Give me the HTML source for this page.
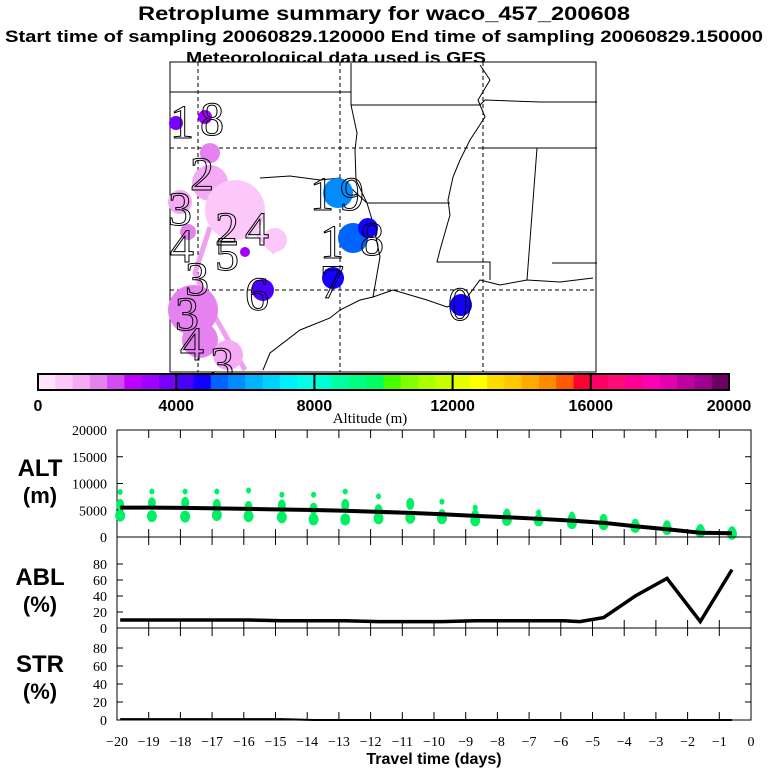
<!DOCTYPE html>
<html><head><meta charset="utf-8"><style>
html,body{margin:0;padding:0;background:#fff}
svg{display:block}
.t{font-family:"Liberation Sans",sans-serif;font-weight:bold;fill:#000}
.s{font-family:"Liberation Serif",serif;fill:#000}
.g{font-family:"Liberation Serif",serif;fill:none;stroke:#000;stroke-width:1}
</style></head><body>
<svg id="c" width="768" height="768" viewBox="0 0 768 768" xmlns="http://www.w3.org/2000/svg">
<text class="t" x="138" y="20" font-size="19" textLength="492" lengthAdjust="spacingAndGlyphs">Retroplume summary for waco_457_200608</text>
<text class="t" x="5" y="42" font-size="17" textLength="758" lengthAdjust="spacingAndGlyphs">Start time of sampling 20060829.120000    End time of sampling 20060829.150000</text>
<text class="t" x="186" y="63" font-size="16" textLength="300" lengthAdjust="spacingAndGlyphs">Meteorological data used is GFS</text>
<g id="map">
<rect x="170" y="62" width="426" height="310" fill="#fff" stroke="#000"/>
<g stroke="#000" stroke-dasharray="4,3" fill="none">
<line x1="198" y1="62" x2="198" y2="372"/><line x1="340" y1="62" x2="340" y2="372"/><line x1="483" y1="62" x2="483" y2="372"/>
<line x1="170" y1="148" x2="596" y2="148"/><line x1="170" y1="290" x2="596" y2="290"/>
</g>
<g stroke="#000" fill="none" stroke-width="1">
<polyline points="170,92 351,92 351,63"/>
<polyline points="351,92 351,105 357,133 355,150 356,180 367,203 373,223 380,257 373,297"/>
<polyline points="351,105 480,105 485,100 540,102 597,102"/>
<polyline points="367,203 450,203"/>
<polyline points="480,65 490,80 478,100 485,117 470,140 460,160 453,177 448,200 450,215 440,250 437,262 490,262 490,280"/>
<polyline points="480,148 597,148"/><polyline points="537,148 527,280"/><polyline points="552,263 597,263"/>
<polyline points="260,178 290,176 320,180 340,178 367,203"/>
<polyline points="263,370 270,353 300,330 330,318 340,310 360,300 373,297 393,290 427,300 447,307 465,300 480,280 500,285 527,280 560,282 593,278"/>
</g>
<g id="blobs"></g>
<g class="g" font-size="48">
<text x="170" y="138">1</text><text x="200" y="135">8</text>
<text x="190" y="190">2</text><text x="168" y="225">3</text><text x="215" y="245">2</text>
<text x="245" y="245">4</text><text x="170" y="262">4</text><text x="185" y="295">3</text>
<text x="215" y="270">5</text><text x="245" y="310">6</text><text x="175" y="330">3</text>
<text x="180" y="360">4</text><text x="210" y="380">3</text>
<text x="310" y="210">1</text><text x="340" y="210">9</text>
<text x="320" y="258">1</text><text x="360" y="255">8</text><text x="320" y="298">7</text>
<text x="448" y="320">0</text>
</g>
</g>
<g id="cbar"></g>
<text class="s" x="370" y="423" font-size="15" text-anchor="middle">Altitude (m)</text>
<g id="plots"></g>
<text class="t" x="434" y="764" font-size="16" text-anchor="middle">Travel time (days)</text>
</svg>
<script>
const NS="http://www.w3.org/2000/svg";
const cbColors=["#ffe4fa","#fcc8fa","#f5aaf5","#e682f0","#d24bf5","#c000ff","#a000ff","#7800ff","#4b00ff","#1400ff","#0064ff","#008cff","#00b4ff","#00d2ff","#00f0ff","#00ffe6","#00ffd2","#00ffa0","#00ff82","#00ff64","#46ff00","#82ff00","#aaff00","#c8ff00","#e6ff00","#ffff00","#ffdc00","#ffc800","#ffaa00","#ff8c00","#ff5a00","#ff0032","#ff0064","#ff0a78","#ff0096","#ff00b4","#e600b4","#c000a0","#a00090","#6e0064"];
const cbTicks=[0,4000,8000,12000,16000,20000];
const days=[-19.9,-18.9,-17.85,-16.85,-15.85,-14.8,-13.8,-12.8,-11.75,-10.75,-9.75,-8.7,-7.7,-6.7,-5.65,-4.65,-3.65,-2.65,-1.6,-0.6];
const altMean=[5500,5500,5450,5350,5250,5150,5050,4900,4700,4500,4250,3950,3700,3400,3050,2650,2000,1450,800,700];
const altHigh=[8400,8500,8500,8500,8700,7900,7900,8500,7600,6500,6600,5500,4800,4600,4200,0,0,0,0,0];
const altMid=[6000,6300,6400,6000,5600,5900,5300,6000,5000,6200,4100,4000,4100,3300,3400,3200,2300,2000,1300,900];
const altLow=[4000,3900,3800,4100,3900,3700,3300,3300,3500,3600,3500,3100,3200,3100,2600,2400,1900,1500,1000,600];
const ablPct=[10,10,10,10,10,9,9,9,8,8,8,9,9,9,9,8,13,40,62,8,73];
const ablDays=[-19.9,-18.9,-17.85,-16.85,-15.85,-14.8,-13.8,-12.8,-11.75,-10.75,-9.75,-8.7,-7.7,-6.7,-5.9,-5.4,-4.65,-3.65,-2.65,-1.6,-0.6];
const strPct=[1,1,1,1,1,1,0,0,0,0,0,0,0,0,0,0,0,0,0,0];
const xTicks=[-20,-19,-18,-17,-16,-15,-14,-13,-12,-11,-10,-9,-8,-7,-6,-5,-4,-3,-2,-1,0];
const blobX=[176,205,210,210,235,180,188,245,275,193,200,228,338,353,368,333,263,461];
const blobY=[123,117,153,183,210,202,232,252,240,310,340,355,193,238,228,278,290,305];
const blobR=[7,7,10,18,30,12,8,5,12,25,18,15,15,15,10,11,11,11];
const blobAlt=[3800,3300,1700,1200,700,1200,1700,3300,700,1700,1700,1200,5700,5200,4700,4700,4300,4700];
function mk(tag,attrs,parent){const e=document.createElementNS(NS,tag);for(const k in attrs)e.setAttribute(k,attrs[k]);parent.appendChild(e);return e;}
function altColor(a){return cbColors[Math.min(39,Math.floor(a/500))];}
const cb=document.getElementById('cbar');const cbX0=38,cbX1=729,cbW=(cbX1-cbX0)/cbColors.length;
cbColors.forEach((c,i)=>{const r=mk('rect',{x:cbX0+i*cbW,y:374,width:cbW+0.5,height:16,fill:c},cb);

});
mk('rect',{x:cbX0,y:374,width:cbX1-cbX0,height:16,fill:'none',stroke:'#000','stroke-width':2},cb);
cbTicks.forEach(v=>{const x=cbX0+v/20000*(cbX1-cbX0);
if(v>0&&v<20000)mk('line',{x1:x,y1:374,x2:x,y2:390,stroke:'#000','stroke-width':2},cb);
const t=mk('text',{x:x,y:411,'font-size':16,'text-anchor':'middle',class:'t'},cb);t.textContent=v;

});
const bl=document.getElementById('blobs');
mk('polyline',{points:'275,253 250,225 230,193',stroke:'#fcc8fa','stroke-width':5,fill:'none'},bl);
mk('polyline',{points:'210,227 195,273 213,313 245,370',stroke:'#f0a0f0','stroke-width':5,fill:'none'},bl);
blobX.forEach((x,i)=>{const c=mk('circle',{cx:x,cy:blobY[i],r:blobR[i],fill:altColor(blobAlt[i])},bl);

});
const P=document.getElementById('plots');const X0=117,X1=751;
const xs=d=>X0+(d+20)/20*(X1-X0);
const altY=v=>537-v/20000*107, ablY=v=>628-v*0.8, strY=v=>720-v*0.9;
function panel(name,top,bot,ticks,yf,l1,l2,ly){
 const g=mk('g',{},P);
 mk('rect',{x:X0,y:top,width:X1-X0,height:bot-top,fill:'none',stroke:'#000'},g);
 xTicks.forEach(d=>{const x=xs(d);mk('line',{x1:x,y1:top,x2:x,y2:top+8,stroke:'#000'},g);mk('line',{x1:x,y1:bot,x2:x,y2:bot-8,stroke:'#000'},g);});
 ticks.forEach(v=>{const y=yf(v);mk('line',{x1:X0,y1:y,x2:X0+6,y2:y,stroke:'#000'},g);mk('line',{x1:X1,y1:y,x2:X1-6,y2:y,stroke:'#000'},g);
  const t=mk('text',{x:107,y:y+5,'font-size':14,'text-anchor':'end',class:'s'},g);t.textContent=v;
  
  });
 const a=mk('text',{x:40,y:ly,'font-size':24,'text-anchor':'middle',class:'t'},g);a.textContent=l1;
 
 
 const b=mk('text',{x:40,y:ly+27,'font-size':22,'text-anchor':'middle',class:'t'},g);b.textContent=l2;
 
 
 return g;}
const gA=panel('alt',430,537,[0,5000,10000,15000,20000],altY,'ALT','(m)',476);
const gB=panel('abl',537,628,[0,20,40,60,80],ablY,'ABL','(%)',585);
const gS=panel('str',628,720,[0,20,40,60,80],strY,'STR','(%)',672);
days.forEach((d,i)=>{const x=xs(d);
 [[altHigh[i],2.5,3],[altMid[i],4,6],[altLow[i],5,6]].forEach(([v,rx,ry])=>{if(v>0){const e=mk('ellipse',{cx:x,cy:altY(v),rx:rx,ry:ry,fill:'#00f064'},gA);
 
 }});});
const la=mk('polyline',{points:days.map((d,i)=>xs(d)+','+altY(altMean[i])).join(' '),fill:'none',stroke:'#000','stroke-width':4},gA);

const lb=mk('polyline',{points:ablDays.map((d,i)=>xs(d)+','+ablY(ablPct[i])).join(' '),fill:'none',stroke:'#000','stroke-width':3.5},gB);

const ls=mk('polyline',{points:days.map((d,i)=>xs(d)+','+strY(strPct[i])).join(' '),fill:'none',stroke:'#000','stroke-width':2},gS);

xTicks.forEach(d=>{const t=mk('text',{x:xs(d),y:746,'font-size':14,'text-anchor':'middle',class:'s'},P);t.textContent=d<0?'\u2212'+(-d):d;

});
</script>
</body></html>
